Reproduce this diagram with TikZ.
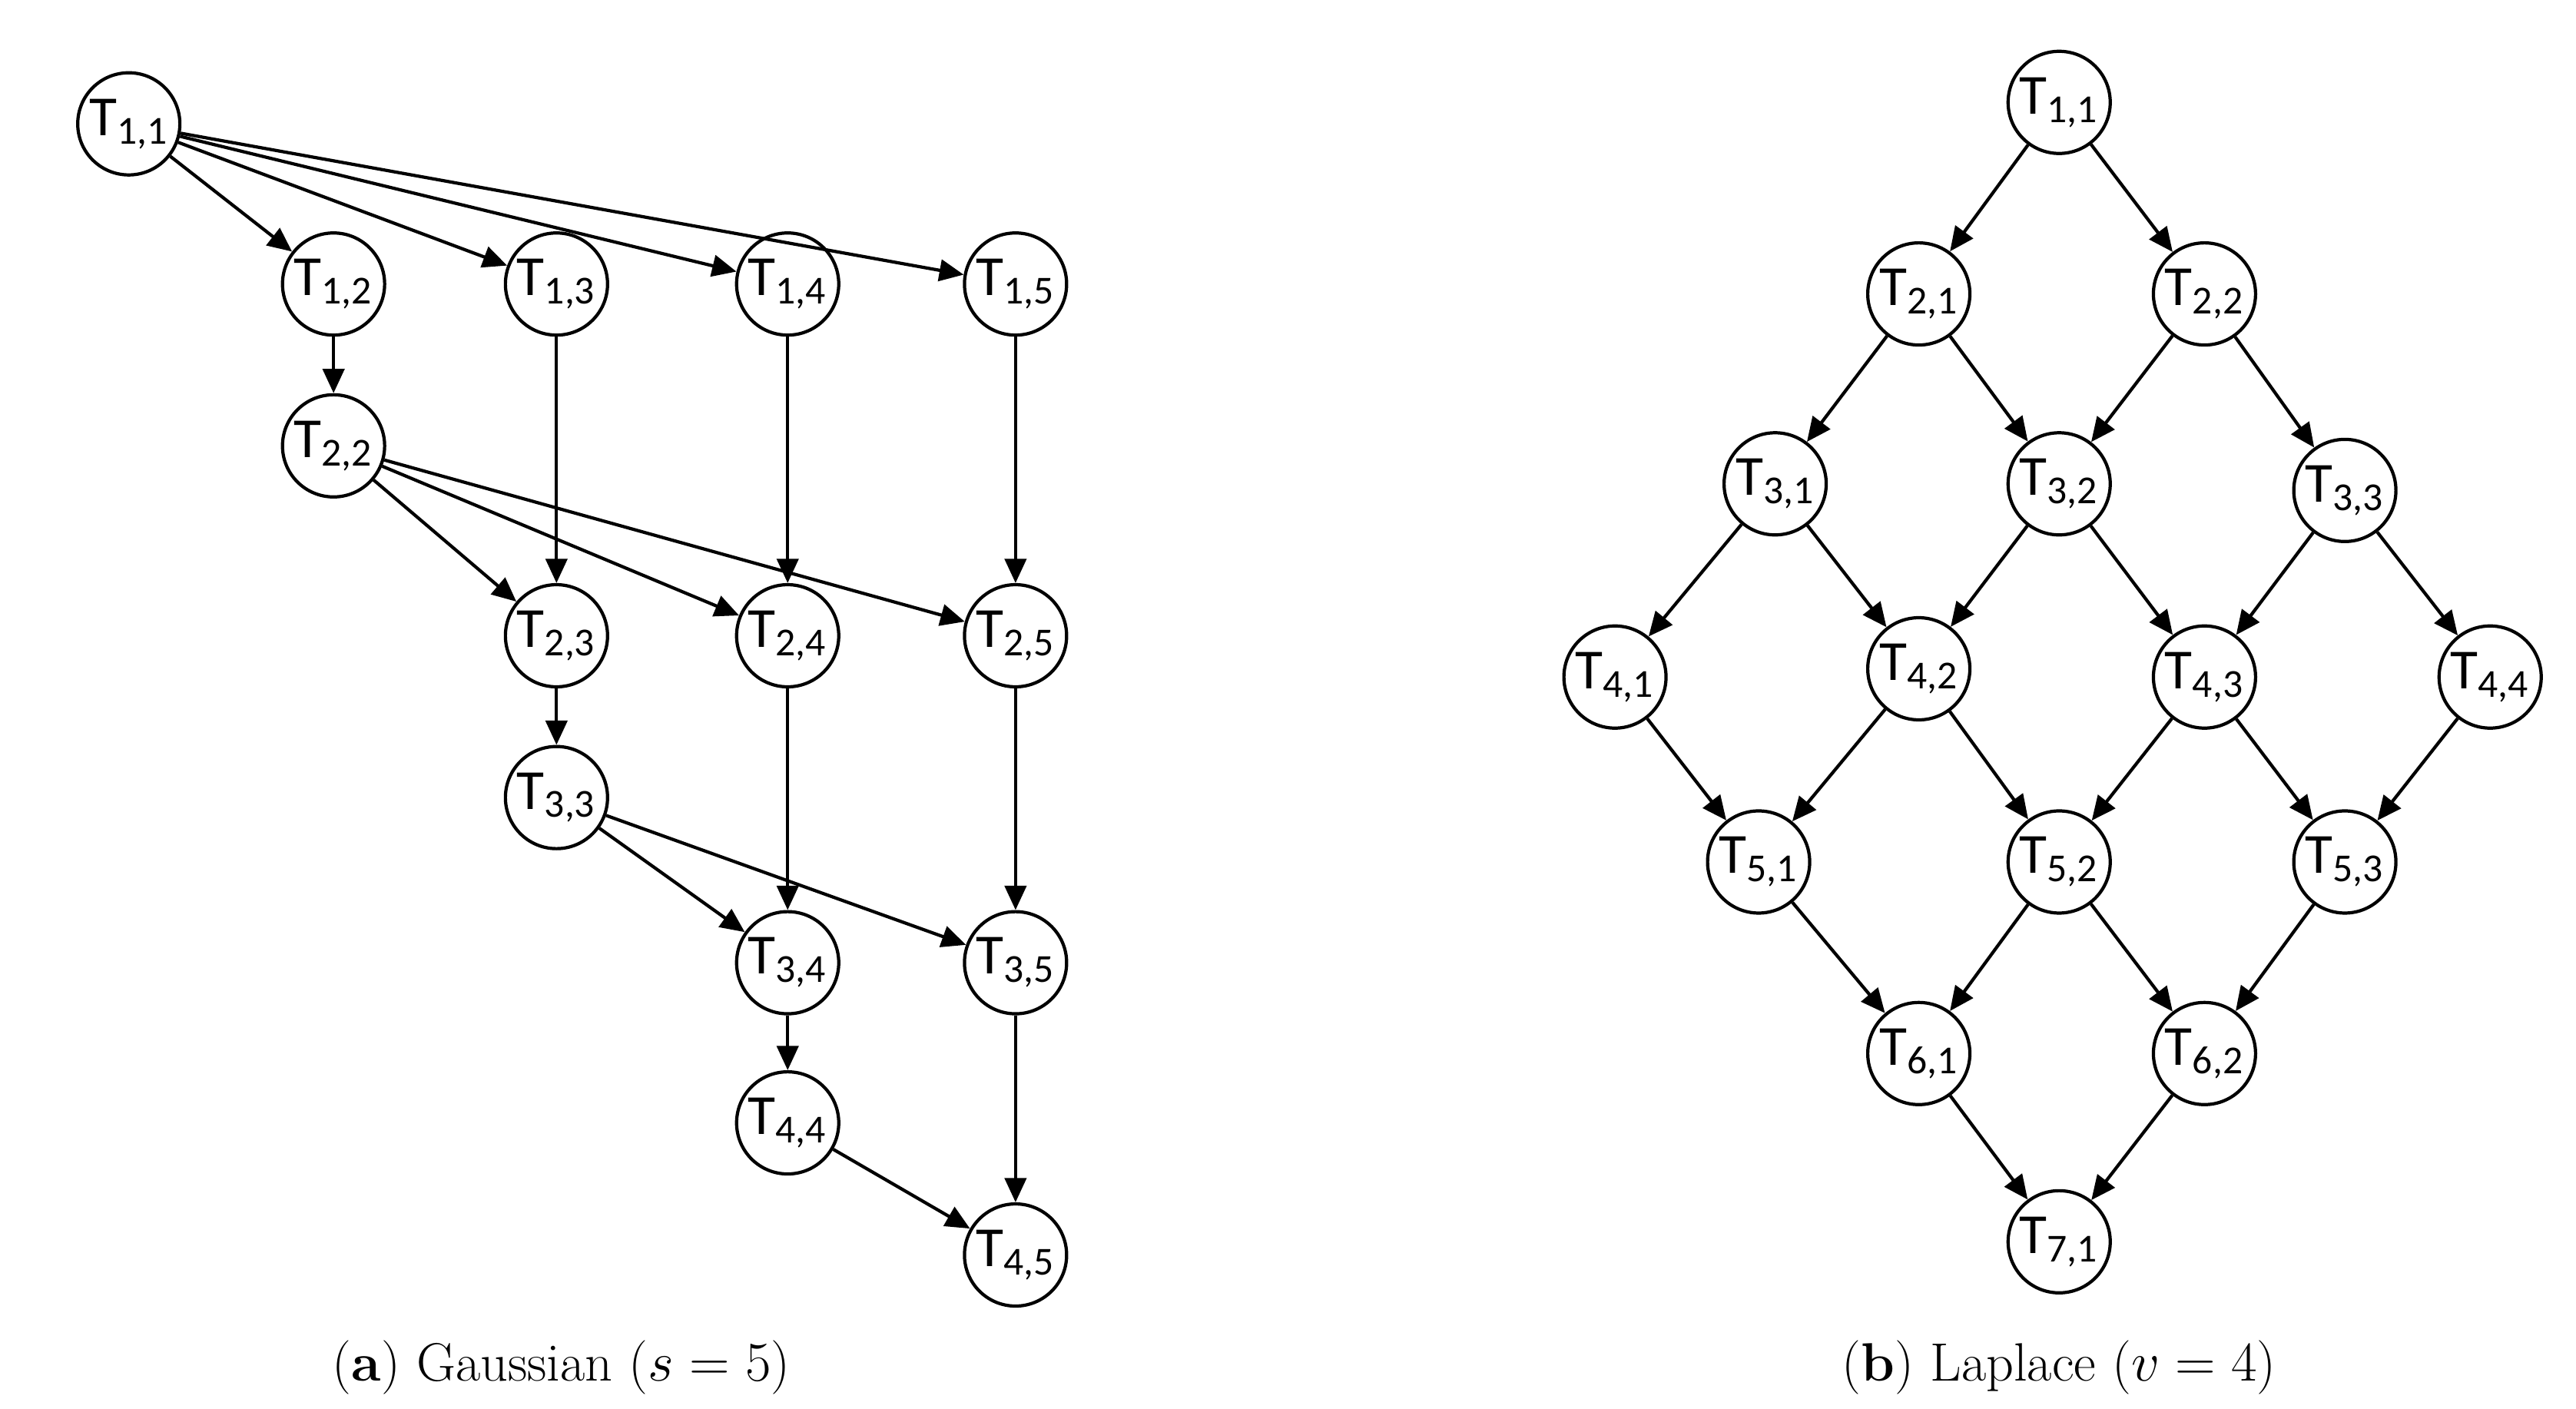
\documentclass[tikz,border=0pt]{standalone}
\usepackage{fontspec}
\setmainfont{Latin Modern Roman}
\newfontfamily\labelfont{Carlito}
\usetikzlibrary{arrows.meta}
\begin{document}
\begin{tikzpicture}[
  x=0.021494cm, y=-0.021494cm,
  task/.style={circle, draw, line width=1.2pt, minimum size=1.33cm, inner sep=0pt, font=\labelfont\fontsize{21}{21}\selectfont},
  dep/.style={line width=1.2pt, -{Triangle[length=9pt, width=8pt]}},
  caption/.style={font=\fontsize{20}{24}\selectfont}
]
  \useasboundingbox (0,0) rectangle (1560,853);
  % Gaussian elimination tasks
  \node[task] (g11) at (78,75) {T\textsubscript{1,1}};
  \node[task] (g12) at (202,172) {T\textsubscript{1,2}};
  \node[task] (g13) at (337,172) {T\textsubscript{1,3}};
  \node[task] (g14) at (477,172) {T\textsubscript{1,4}};
  \node[task] (g15) at (615,172) {T\textsubscript{1,5}};
  \node[task] (g22) at (202,270) {T\textsubscript{2,2}};
  \node[task] (g23) at (337,385) {T\textsubscript{2,3}};
  \node[task] (g24) at (477,385) {T\textsubscript{2,4}};
  \node[task] (g25) at (615,385) {T\textsubscript{2,5}};
  \node[task] (g33) at (337,483) {T\textsubscript{3,3}};
  \node[task] (g34) at (477,583) {T\textsubscript{3,4}};
  \node[task] (g35) at (615,583) {T\textsubscript{3,5}};
  \node[task] (g44) at (477,680) {T\textsubscript{4,4}};
  \node[task] (g45) at (615,760) {T\textsubscript{4,5}};
  \foreach \a/\b in {g11/g12, g11/g13, g11/g14, g11/g15, g12/g22, g13/g23, g14/g24, g15/g25,
    g22/g23, g22/g24, g22/g25, g23/g33, g24/g34, g25/g35, g33/g34, g33/g35,
    g34/g44, g35/g45, g44/g45}
    \draw[dep] (\a) -- (\b);

  % Laplace tasks
  \node[task] (l11) at (1247,62) {T\textsubscript{1,1}};
  \node[task] (l21) at (1162,178) {T\textsubscript{2,1}};
  \node[task] (l22) at (1335,178) {T\textsubscript{2,2}};
  \node[task] (l31) at (1075,293) {T\textsubscript{3,1}};
  \node[task] (l32) at (1247,293) {T\textsubscript{3,2}};
  \node[task] (l33) at (1420,297) {T\textsubscript{3,3}};
  \node[task] (l41) at (978,410) {T\textsubscript{4,1}};
  \node[task] (l42) at (1162,405) {T\textsubscript{4,2}};
  \node[task] (l43) at (1335,410) {T\textsubscript{4,3}};
  \node[task] (l44) at (1508,410) {T\textsubscript{4,4}};
  \node[task] (l51) at (1065,522) {T\textsubscript{5,1}};
  \node[task] (l52) at (1247,522) {T\textsubscript{5,2}};
  \node[task] (l53) at (1420,522) {T\textsubscript{5,3}};
  \node[task] (l61) at (1162,638) {T\textsubscript{6,1}};
  \node[task] (l62) at (1335,638) {T\textsubscript{6,2}};
  \node[task] (l71) at (1247,752) {T\textsubscript{7,1}};
  \foreach \a/\b in {l11/l21, l11/l22, l21/l31, l21/l32, l22/l32, l22/l33,
    l31/l41, l31/l42, l32/l42, l32/l43, l33/l43, l33/l44,
    l41/l51, l42/l51, l42/l52, l43/l52, l43/l53, l44/l53,
    l51/l61, l52/l61, l52/l62, l53/l62, l61/l71, l62/l71}
    \draw[dep] (\a) -- (\b);

  % Captions
  \node[caption] (capa) at (340,828) {(\textbf{a}) Gaussian ($s = 5$)};
  \node[caption] (capb) at (1247,828) {(\textbf{b}) Laplace ($v = 4$)};
\end{tikzpicture}
\end{document}
